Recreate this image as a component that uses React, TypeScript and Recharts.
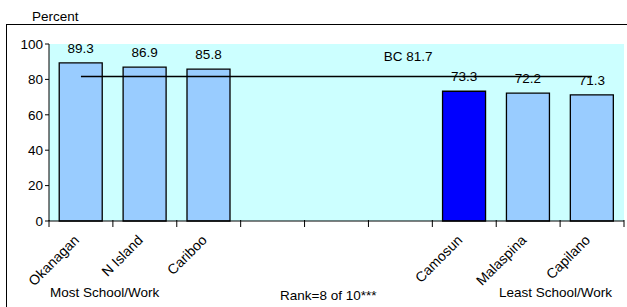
import { BarChart, Bar, XAxis, YAxis, CartesianGrid, Cell, LabelList, ReferenceLine } from 'recharts';

const colleges = ['Okanagan', 'N Island', 'Cariboo', '', ' ', '  ', 'Camosun', 'Malaspina', 'Capilano'];
const percent = [89.3, 86.9, 85.8, null, null, null, 73.3, 72.2, 71.3];
const highlight = 'Camosun';
const bcAverage = 81.7;
const yTicks = [0, 20, 40, 60, 80, 100];

const data = colleges.map((name, i) => ({ name, value: percent[i] }));

const font = 'Arial, "Liberation Sans", sans-serif';
const chartW = 627;
const chartH = 307;
const margin = { top: 44, right: 3, bottom: 26, left: 9 };
const yAxisW = 40;
const band = (chartW - margin.left - margin.right - yAxisW) / colleges.length;

// ticks sit on category boundaries, labels at the centre
const CollegeTick = ({ x, y, payload, index }: any) => {
  const top = y - 6;
  const lx = x - 1;
  const ly = y + 12;
  return (
    <g>
      <line x1={x - band / 2} x2={x - band / 2} y1={top - 3} y2={top + 4} stroke="#000" />
      {index === colleges.length - 1 && (
        <line x1={x + band / 2} x2={x + band / 2} y1={top - 3} y2={top + 4} stroke="#000" />
      )}
      {payload.value.trim() && (
        <text
          x={lx}
          y={ly}
          transform={`rotate(-45, ${lx}, ${ly})`}
          textAnchor="end"
          fontSize={14}
          fontFamily={font}
          fill="#000"
        >
          {payload.value}
        </text>
      )}
    </g>
  );
};

const BcLabel = ({ viewBox }: any) => {
  const { x, y, width } = viewBox;
  return (
    <text x={x + width * 0.64} y={y - 15} textAnchor="middle" fontSize={13.5} fontFamily={font} fill="#000">
      BC {bcAverage}
    </text>
  );
};

const note = (left: number, top: number, text: string) => (
  <div style={{ position: 'absolute', left, top, fontSize: 13.5, fontFamily: font, whiteSpace: 'nowrap', lineHeight: '15px' }}>
    {text}
  </div>
);

export default function App() {
  return (
    <div style={{ position: 'absolute', left: 0, top: 0, width: chartW, height: chartH, overflow: 'hidden', background: '#fff' }}>
      {note(32, 9, 'Percent')}
      <div style={{ position: 'absolute', left: 0, top: 0 }}>
        <BarChart width={chartW} height={chartH} data={data} margin={margin} barCategoryGap="16%">
          <CartesianGrid horizontal={false} vertical={false} fill="#CCFFFF" />
          <XAxis
            dataKey="name"
            stroke="#000"
            tickLine={false}
            interval={0}
            height={60}
            tick={<CollegeTick />}
          />
          <YAxis
            domain={[0, 100]}
            ticks={yTicks}
            width={yAxisW}
            tickSize={4}
            stroke="#000"
            tick={{ fill: '#000', fontSize: 13.5, fontFamily: font }}
          />
          <Bar dataKey="value" stroke="#000" strokeWidth={1.3} isAnimationActive={false}>
            {data.map((d) => (
              <Cell key={d.name} fill={d.name === highlight ? '#0000FF' : '#99CCFF'} />
            ))}
            <LabelList dataKey="value" position="top" offset={10} fontSize={13.5} fontFamily={font} fill="#000" />
          </Bar>
          <ReferenceLine
            segment={[
              { x: colleges[0], y: bcAverage },
              { x: colleges[colleges.length - 1], y: bcAverage },
            ]}
            stroke="#000"
            strokeWidth={1.5}
            label={<BcLabel />}
          />
        </BarChart>
      </div>
      {note(50, 285, 'Most School/Work')}
      {note(280, 288, 'Rank=8 of 10***')}
      {note(499, 285, 'Least School/Work')}
      <div
        style={{
          position: 'absolute',
          left: 6,
          top: 24,
          width: 630,
          height: 300,
          border: '1px solid #000',
          pointerEvents: 'none',
        }}
      />
    </div>
  );
}
